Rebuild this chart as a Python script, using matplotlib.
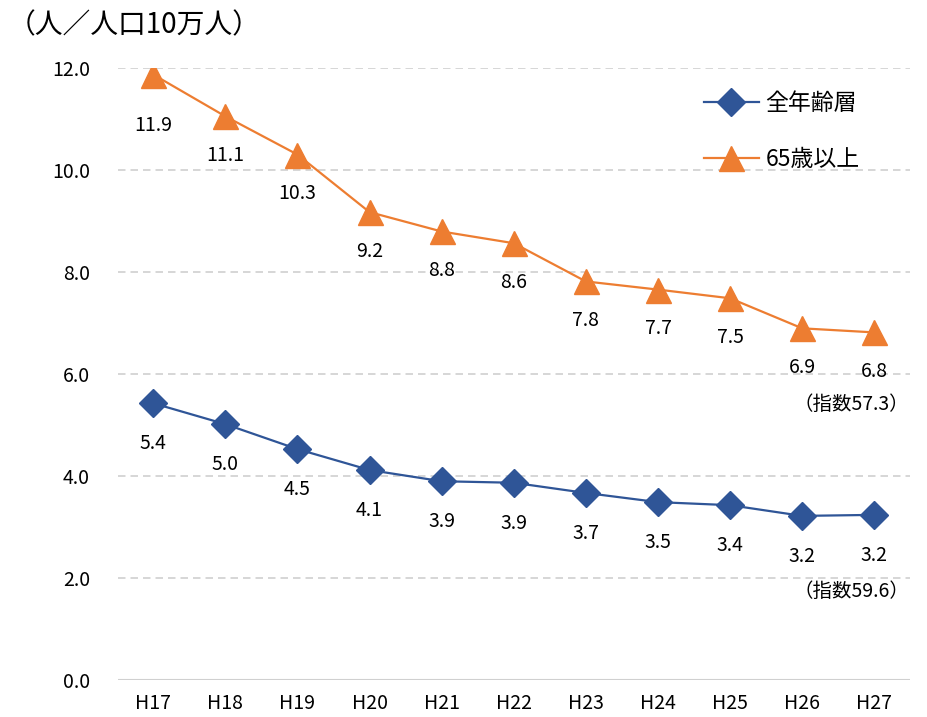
import matplotlib
matplotlib.use("Agg")
import matplotlib.pyplot as plt
import numpy as np

plt.rcParams['font.family'] = ['Noto Sans CJK JP', 'DejaVu Sans']

years = ['H17', 'H18', 'H19', 'H20', 'H21', 'H22', 'H23', 'H24', 'H25', 'H26', 'H27']
all_ages = [5.43, 5.02, 4.53, 4.12, 3.90, 3.87, 3.67, 3.49, 3.43, 3.22, 3.24]
over65 = [11.88, 11.06, 10.31, 9.18, 8.80, 8.57, 7.82, 7.66, 7.49, 6.90, 6.82]
idx_all = '（指数59.6）'
idx_65 = '（指数57.3）'

blue = '#2F5597'
orange = '#ED7D31'

fig = plt.figure(figsize=(9.28, 7.17), dpi=100)
ax = fig.add_axes([0.127, 0.0516, 0.854, 0.853])
x = np.arange(len(years))

ax.plot(x, all_ages, color=blue, lw=1.6, marker='D', ms=14, label='全年齢層', zorder=3)
ax.plot(x, over65, color=orange, lw=1.6, marker='^', ms=18, label='65歳以上', zorder=3)

for xi, v in zip(x, all_ages):
    ax.annotate(f'{v:.1f}', (xi, v), xytext=(0, -29), textcoords='offset points',
                ha='center', va='center', fontsize=14)
for i, (xi, v) in enumerate(zip(x, over65)):
    dy = -37 if i == 0 else -28
    ax.annotate(f'{v:.1f}', (xi, v), xytext=(0, dy), textcoords='offset points',
                ha='center', va='center', fontsize=14)

ax.annotate(idx_65, (x[-1], over65[-1]), xytext=(25, -52), textcoords='offset points',
            ha='right', va='center', fontsize=14)
ax.annotate(idx_all, (x[-1], all_ages[-1]), xytext=(25, -55), textcoords='offset points',
            ha='right', va='center', fontsize=14)

ax.set_xlim(-0.49, 10.5)
ax.set_ylim(0, 12)
ax.set_yticks(np.arange(0, 12.1, 2))
ax.set_yticklabels([f'{t:.1f}' for t in np.arange(0, 12.1, 2)])
ax.set_xticks(x)
ax.set_xticklabels(years)
ax.tick_params(length=0, labelsize=14)
ax.tick_params(axis='y', pad=20)
ax.tick_params(axis='x', pad=9)
for s in ax.spines.values():
    s.set_visible(False)
ax.yaxis.grid(True, color='#D0D0D0', ls=(0, (4.5, 3)), lw=1.2)
ax.axhline(0, color='#D0D0D0', lw=1.5, zorder=1)
ax.set_axisbelow(True)

ax.legend(loc='upper left', bbox_to_anchor=(0.713, 0.995), frameon=False,
          fontsize=16.5, labelspacing=1.45, handlelength=2.4, handletextpad=0.3)

fig.text(0.008, 0.965, '（人／人口10万人）', fontsize=20, ha='left', va='center')

fig.savefig('out.png', dpi=100)
